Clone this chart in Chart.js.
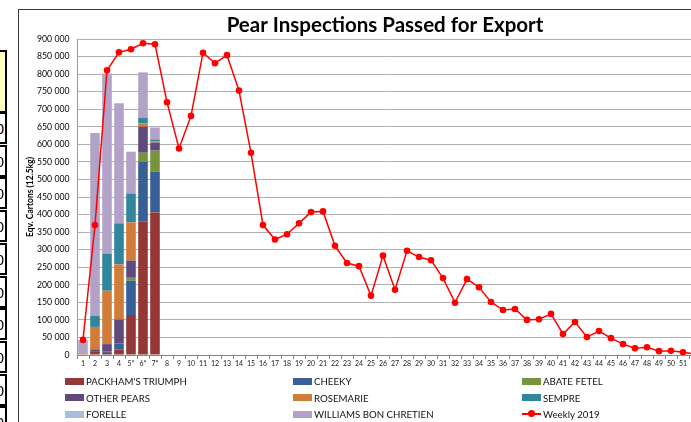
<!DOCTYPE html>
<html><head><meta charset="utf-8">
<script src="https://cdn.jsdelivr.net/npm/chart.js@4"></script>
<style>
html,body{margin:0;padding:0;width:691px;height:422px;overflow:hidden;background:#fff;font-family:Lato,"Open Sans",sans-serif;}
#wrap{position:absolute;left:18px;top:9px;width:734px;height:420px;}
#frameL{position:absolute;left:18px;top:9px;width:1px;height:420px;background:#3a3a3a;}
#frameT{position:absolute;left:18px;top:9px;width:700px;height:1px;background:#3a3a3a;}
.cell{position:absolute;left:-24px;width:31px;border:2px solid #000;background:#fff;font:15px "Liberation Sans",Arial,sans-serif;text-align:right;box-sizing:border-box;padding-right:1px;overflow:hidden;}
#legend{position:absolute;left:0;top:0;width:691px;height:422px;pointer-events:none;}
.li{position:absolute;height:14px;display:flex;align-items:center;font:9.7px Lato,sans-serif;color:#111;white-space:nowrap;}
.sw{width:19px;height:7px;margin-right:2px;position:relative;}
</style></head>
<body>
<div id="wrap"><canvas id="c" width="734" height="420"></canvas></div>
<div id="frameL"></div><div id="frameT"></div>
<div id="cells"></div>
<div id="legend"></div>
<script>
const weeks = ['1','2','3','4','5*','6*','7*','8','9','10','11','12','13','14','15','16','17','18','19','20','21','22','23','24','25','26','27','28','29','30','31','32','33','34','35','36','37','38','39','40','41','42','43','44','45','46','47','48','49','50','51','52'];
const packham   = [0, 9000, 6000, 16000, 114000, 380000, 406000];
const cheeky    = [0, 0, 4000, 17000, 98000, 170000, 116000];
const abate     = [0, 0, 0, 0, 8000, 26000, 60000];
const otherPears= [0, 7000, 21000, 68000, 49000, 74000, 23000];
const rosemarie = [5000, 64000, 152000, 157000, 109000, 10000, 4000];
const sempre    = [0, 31000, 106000, 117000, 82000, 16000, 5000];
const forelle   = [0, 0, 0, 0, 0, 0, 0];
const williams  = [37000, 521000, 513000, 342000, 119000, 129000, 34000];
const weekly2019 = [43000,370000,811000,862000,871000,888000,885000,720000,588000,681000,861000,831000,854000,753000,576000,370000,329000,344000,375000,407000,409000,311000,262000,253000,169000,283000,186000,297000,279000,270000,219000,149000,216000,193000,151000,128000,131000,100000,102000,117000,60000,94000,51000,68000,48000,31000,19000,22000,11000,12000,8000,3000];
const yTicks = [0,50000,100000,150000,200000,250000,300000,350000,400000,450000,500000,550000,600000,650000,700000,750000,800000,850000,900000];

const fmt = v => String(v).replace(/\B(?=(\d{3})+(?!\d))/g,' ');
function bar(label, data, color){
  return {type:'bar', label, data, backgroundColor:color, borderWidth:0, stack:'s', order:1,
          barPercentage:0.8, categoryPercentage:1};
}
const datasets = [
  bar("PACKHAM'S TRIUMPH", packham, '#953735'),
  bar('CHEEKY', cheeky, '#386096'),
  bar('ABATE FETEL', abate, '#77933C'),
  bar('OTHER PEARS', otherPears, '#604A7B'),
  bar('ROSEMARIE', rosemarie, '#D27C39'),
  bar('SEMPRE', sempre, '#31859C'),
  bar('FORELLE', forelle, '#A8BCDC'),
  bar('WILLIAMS BON CHRETIEN', williams, '#B3A2C7'),
  {type:'line', label:'Weekly 2019', data:weekly2019, borderColor:'#FF0000', backgroundColor:'#FF0000',
   borderWidth:1.5, pointRadius:3.3, pointBorderWidth:0, pointBackgroundColor:'#FF0000', stack:'w', order:0, tension:0}
];

const chart = new Chart(document.getElementById('c'), {
  data:{labels:weeks, datasets},
  options:{
    responsive:false, animation:false, devicePixelRatio:1,
    layout:{padding:{left:0,right:0,top:0,bottom:54}},
    plugins:{
      legend:{display:false}, tooltip:{enabled:false},
      title:{display:true, text:'Pear Inspections Passed for Export', color:'#000',
             font:{family:'Lato', size:20.5, weight:'bold', lineHeight:1.2}, padding:{top:4,bottom:1.4}}
    },
    scales:{
      x:{stacked:true, offset:true,
         grid:{display:true, drawOnChartArea:false, tickLength:4, color:'#868686', offset:true},
         border:{display:true, color:'#868686'},
         ticks:{autoSkip:false, maxRotation:0, padding:1, color:'#222', font:{family:'Lato', size:7}},
         afterFit:s=>{s.height=20;}},
      y:{stacked:true, min:0, max:900000,
         afterBuildTicks:s=>{s.ticks=yTicks.map(v=>({value:v}));},
         grid:{color:'#b0b0b0', drawTicks:false, tickLength:0},
         border:{display:true, color:'#9a9a9a'},
         ticks:{padding:7.5, color:'#000', font:{family:'Lato', size:8.7}, callback:v=>fmt(v)},
         title:{display:true, text:'Eqv. Cartons (12.5kg)', color:'#000', font:{family:'Lato', size:8.5, weight:'bold', lineHeight:1.2}, padding:{top:7,bottom:0}},
         afterFit:s=>{s.width=59;}},
      y2:{position:'right', display:true, min:0, max:900000,
          grid:{display:false}, border:{display:false}, ticks:{display:false},
          afterFit:s=>{s.width=51;}}
    }
  }
});

// HTML legend built from chart datasets, 3 columns
const colX = [65, 293, 522];
const rowY = [381, 397.5, 414];
const leg = document.getElementById('legend');
chart.data.datasets.forEach((ds,i)=>{
  const el = document.createElement('div');
  el.className='li';
  el.style.left = colX[i%3]+'px';
  el.style.top = (rowY[Math.floor(i/3)]-7)+'px';
  const sw = document.createElement('div');
  sw.className='sw';
  if(ds.type==='line'){
    sw.style.height='2px'; sw.style.background=ds.borderColor;
    const dot=document.createElement('div');
    dot.style.cssText='position:absolute;left:6px;top:-3px;width:7px;height:7px;border-radius:50%;background:'+ds.borderColor;
    sw.appendChild(dot);
  } else sw.style.background=ds.backgroundColor;
  el.appendChild(sw);
  const t=document.createElement('span'); t.textContent=ds.label; el.appendChild(t);
  leg.appendChild(el);
});

// left-hand spreadsheet fragment
const cells = document.getElementById('cells');
const yc = document.createElement('div');
yc.className='cell'; yc.style.top='50px'; yc.style.height='63px'; yc.style.background='#FFFFC0';
cells.appendChild(yc);
for(let k=0;k<10;k++){
  const d=document.createElement('div');
  d.className='cell'; d.style.top=(112+k*32.7)+'px'; d.style.height='32px';
  d.style.lineHeight='30px'; d.textContent='0';
  cells.appendChild(d);
}
</script>
</body></html>
